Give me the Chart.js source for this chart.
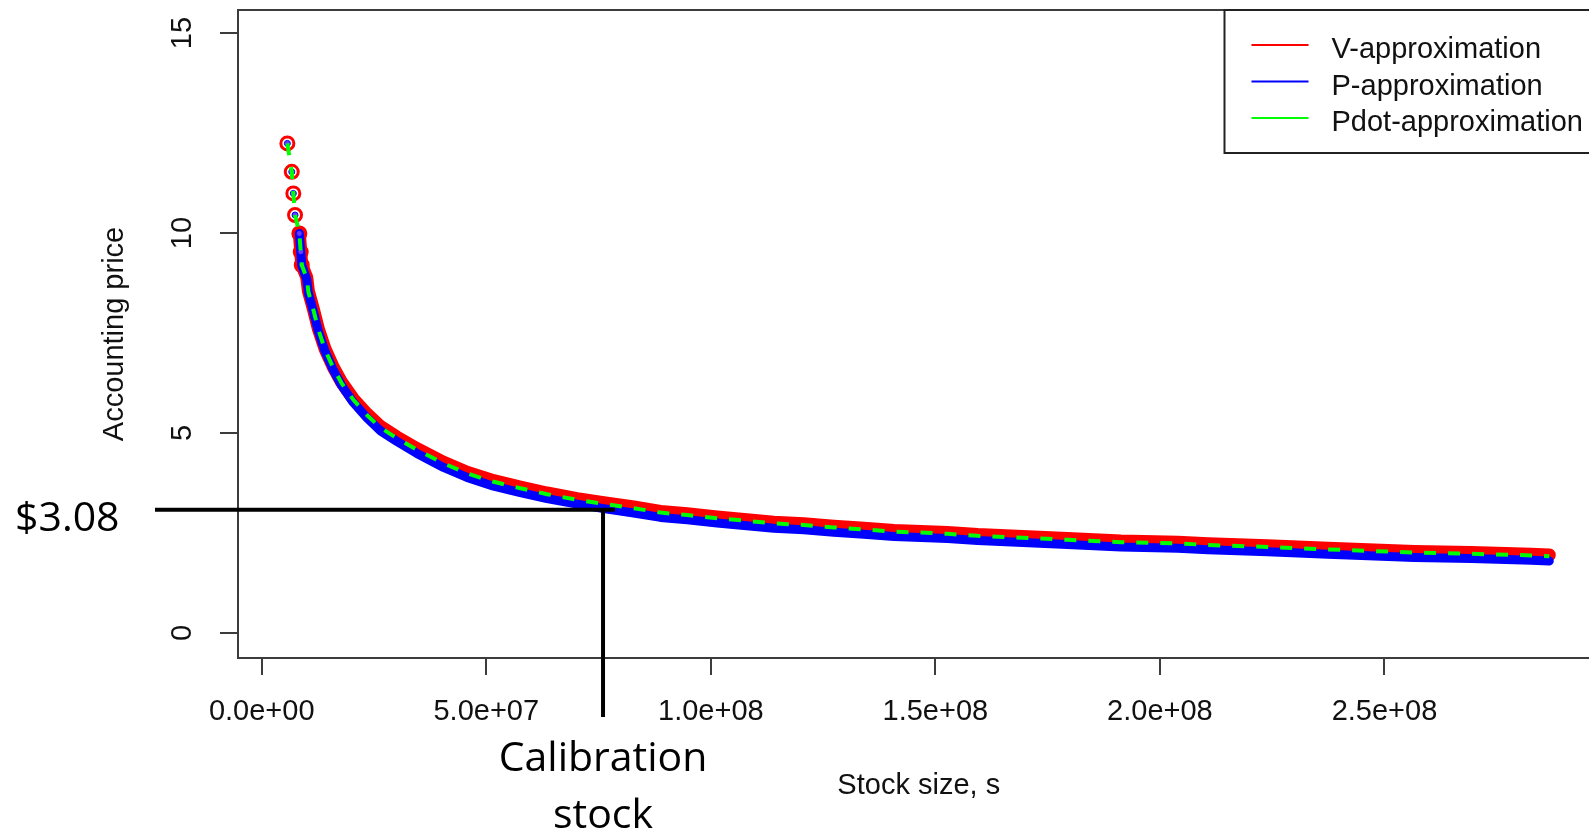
<!DOCTYPE html>
<html>
<head>
<meta charset="utf-8">
<script src="https://cdn.jsdelivr.net/npm/chart.js@4.4.1/dist/chart.umd.min.js"></script>
<style>
  html, body { margin: 0; padding: 0; background: #fff; overflow: hidden; }
</style>
</head>
<body>
<canvas id="priceChart" width="1609" height="835"></canvas>
<script>
// values
const stockSize = [5.71e6, 6.69e6, 7.04e6, 7.42e6, 8.38e6, 8.69e6, 8.92e6, 1.003e7, 1.039e7, 1.150e7,
  1.262e7, 1.411e7, 1.596e7, 1.783e7, 2.042e7, 2.341e7, 2.637e7, 3.009e7, 3.455e7, 4.048e7,
  4.570e7, 5.163e7, 5.758e7, 6.353e7, 7.022e7, 7.615e7, 8.284e7, 8.879e7, 9.474e7, 1.014e8,
  1.074e8, 1.140e8, 1.207e8, 1.274e8, 1.341e8, 1.408e8, 1.468e8, 1.527e8, 1.594e8, 1.720e8,
  1.794e8, 1.913e8, 2.040e8, 2.107e8, 2.240e8, 2.374e8, 2.567e8, 2.693e8, 2.827e8, 2.867e8];

const vApprox = [12.24, 11.53, 10.99, 10.45, 9.99, 9.53, 9.20, 8.89, 8.55, 8.10,
  7.60, 7.10, 6.64, 6.26, 5.85, 5.48, 5.17, 4.90, 4.61, 4.27,
  4.02, 3.81, 3.65, 3.50, 3.36, 3.26, 3.15, 3.04, 2.98, 2.90,
  2.84, 2.77, 2.73, 2.67, 2.62, 2.56, 2.54, 2.51, 2.46, 2.40,
  2.36, 2.30, 2.27, 2.23, 2.18, 2.12, 2.04, 2.01, 1.97, 1.95];

const pApprox = [12.24, 11.53, 10.99, 10.45, 9.99, 9.53, 9.20, 8.84, 8.50, 8.04,
  7.54, 7.04, 6.57, 6.18, 5.76, 5.38, 5.06, 4.79, 4.49, 4.14,
  3.89, 3.67, 3.51, 3.36, 3.22, 3.11, 3.00, 2.89, 2.83, 2.75,
  2.69, 2.62, 2.58, 2.52, 2.47, 2.41, 2.39, 2.36, 2.31, 2.25,
  2.21, 2.15, 2.12, 2.08, 2.03, 1.97, 1.89, 1.86, 1.82, 1.80];

const pdotApprox = [12.24, 11.53, 10.99, 10.45, 9.99, 9.53, 9.20, 8.87, 8.53, 8.08,
  7.58, 7.08, 6.62, 6.24, 5.83, 5.45, 5.14, 4.87, 4.58, 4.24,
  3.99, 3.78, 3.62, 3.47, 3.33, 3.23, 3.12, 3.01, 2.95, 2.87,
  2.81, 2.74, 2.70, 2.64, 2.59, 2.53, 2.51, 2.48, 2.43, 2.37,
  2.33, 2.27, 2.24, 2.20, 2.15, 2.09, 2.01, 1.98, 1.94, 1.92];

const seriesNames = ['V-approximation', 'P-approximation', 'Pdot-approximation'];
const seriesColors = ['#ff0000', '#0000ff', '#00ff00'];
const xTicks = [0, 5e7, 1e8, 1.5e8, 2e8, 2.5e8];
const yTicks = [0, 5, 10, 15];
const calibStock = 7.6e7;
const calibPrice = 3.08;

const rFont = "'Liberation Sans', Arial, sans-serif";
const noteFont = "'Open Sans', 'Noto Sans', sans-serif";
const axisGrey = '#3c3c3c';

Chart.defaults.font.family = rFont;
Chart.defaults.font.size = 29;
Chart.defaults.color = '#111';

function toPoints(ys) {
  return stockSize.map((s, i) => ({ x: s, y: ys[i] }));
}

// first few points are spread out and show as separate markers
const nSparse = 7;
const hideSparse = col => ctx => ctx.p0.parsed.y > 10 ? 'rgba(0,0,0,0)' : col;

function rExp(v) {
  const [m, e] = v.toExponential(1).split('e');
  return m + 'e' + (e[0] === '-' ? '-' : '+') + String(Math.abs(+e)).padStart(2, '0');
}

const extras = {
  id: 'extras',
  afterDatasetsDraw(chart) {
    const { ctx, chartArea: a, scales: { x, y } } = chart;
    ctx.save();

    // rest of the plot box
    ctx.strokeStyle = axisGrey;
    ctx.lineWidth = 2;
    ctx.beginPath();
    ctx.moveTo(a.left - 1, a.top);
    ctx.lineTo(a.right, a.top);
    ctx.lineTo(a.right, a.bottom);
    ctx.stroke();

    // y tick labels, rotated like R does
    ctx.fillStyle = '#111';
    ctx.font = '29px ' + rFont;
    ctx.textAlign = 'center';
    ctx.textBaseline = 'middle';
    y.ticks.forEach(t => {
      ctx.save();
      ctx.translate(a.left - 55, y.getPixelForValue(t.value));
      ctx.rotate(-Math.PI / 2);
      ctx.fillText(String(t.value), 0, 0);
      ctx.restore();
    });

    // legend box (runs off the right edge)
    const lx = a.right - 375, ly = a.top;
    ctx.fillStyle = '#fff';
    ctx.fillRect(lx, ly, 400, 143);
    ctx.strokeStyle = '#222';
    ctx.lineWidth = 2;
    ctx.strokeRect(lx, ly, 400, 143);
    ctx.textAlign = 'left';
    seriesNames.forEach((name, i) => {
      const ty = ly + 35 + i * 36.5;
      ctx.strokeStyle = seriesColors[i];
      ctx.lineWidth = 2;
      ctx.beginPath();
      ctx.moveTo(lx + 27, ty);
      ctx.lineTo(lx + 84, ty);
      ctx.stroke();
      ctx.fillStyle = '#111';
      ctx.fillText(name, lx + 107, ty + 5);
    });

    // calibration annotation
    const xc = x.getPixelForValue(calibStock);
    const yc = y.getPixelForValue(calibPrice);
    ctx.strokeStyle = '#000';
    ctx.lineWidth = 4;
    ctx.beginPath();
    ctx.moveTo(155, yc);
    ctx.lineTo(xc + 12, yc);
    ctx.moveTo(xc, yc);
    ctx.lineTo(xc, 717);
    ctx.stroke();

    ctx.fillStyle = '#000';
    ctx.font = '41px ' + noteFont;
    ctx.textBaseline = 'alphabetic';
    ctx.textAlign = 'left';
    ctx.fillText('$' + calibPrice.toFixed(2), 15, yc + 21);
    ctx.textAlign = 'center';
    ctx.fillText('Calibration', xc, 771);
    ctx.fillText('stock', xc, 828);

    ctx.restore();
  }
};

new Chart(document.getElementById('priceChart'), {
  type: 'line',
  data: {
    datasets: [{
      label: seriesNames[0],
      data: toPoints(vApprox),
      order: 3,
      borderColor: seriesColors[0],
      borderWidth: 13,
      borderCapStyle: 'round',
      borderJoinStyle: 'round',
      segment: { borderColor: hideSparse(seriesColors[0]) },
      pointRadius: stockSize.map((s, i) => i < nSparse ? 6.5 : 0),
      pointBorderWidth: 3,
      pointBorderColor: seriesColors[0],
      pointBackgroundColor: 'rgba(0,0,0,0)'
    }, {
      label: seriesNames[1],
      data: toPoints(pApprox),
      order: 2,
      borderColor: seriesColors[1],
      borderWidth: 9,
      borderCapStyle: 'round',
      borderJoinStyle: 'round',
      segment: { borderColor: hideSparse(seriesColors[1]) },
      pointRadius: stockSize.map((s, i) => i < nSparse ? 3 : 0),
      pointBorderWidth: 1,
      pointBorderColor: seriesColors[1],
      pointBackgroundColor: '#6a3cff'
    }, {
      label: seriesNames[2],
      data: toPoints(pdotApprox),
      order: 1,
      borderColor: seriesColors[2],
      borderWidth: 4,
      borderDash: [12, 12],
      pointRadius: 0
    }]
  },
  options: {
    responsive: false,
    animation: false,
    layout: { padding: { top: 10, left: 0, right: 0, bottom: 0 } },
    plugins: {
      legend: { display: false },
      tooltip: { enabled: false }
    },
    scales: {
      x: {
        type: 'linear',
        min: -5.28e6,
        max: 2.9788e8,
        afterBuildTicks: s => { s.ticks = xTicks.map(v => ({ value: v })); },
        afterFit: s => { s.height = 177; },
        grid: { drawOnChartArea: false, tickLength: 17, tickColor: axisGrey, lineWidth: 2 },
        border: { color: axisGrey, width: 2 },
        ticks: { padding: 20, maxRotation: 0, callback: v => rExp(v) },
        title: { display: true, text: 'Stock size, s', padding: { top: 0, bottom: 32 } }
      },
      y: {
        min: -0.625,
        max: 15.575,
        afterBuildTicks: s => { s.ticks = yTicks.map(v => ({ value: v })); },
        afterFit: s => { s.width = 238; },
        grid: { drawOnChartArea: false, tickLength: 18, tickColor: axisGrey, lineWidth: 2 },
        border: { color: axisGrey, width: 2 },
        ticks: { display: false },
        title: { display: true, text: 'Accounting price', padding: { top: 98, bottom: 0 } }
      }
    }
  },
  plugins: [extras]
});
</script>
</body>
</html>
